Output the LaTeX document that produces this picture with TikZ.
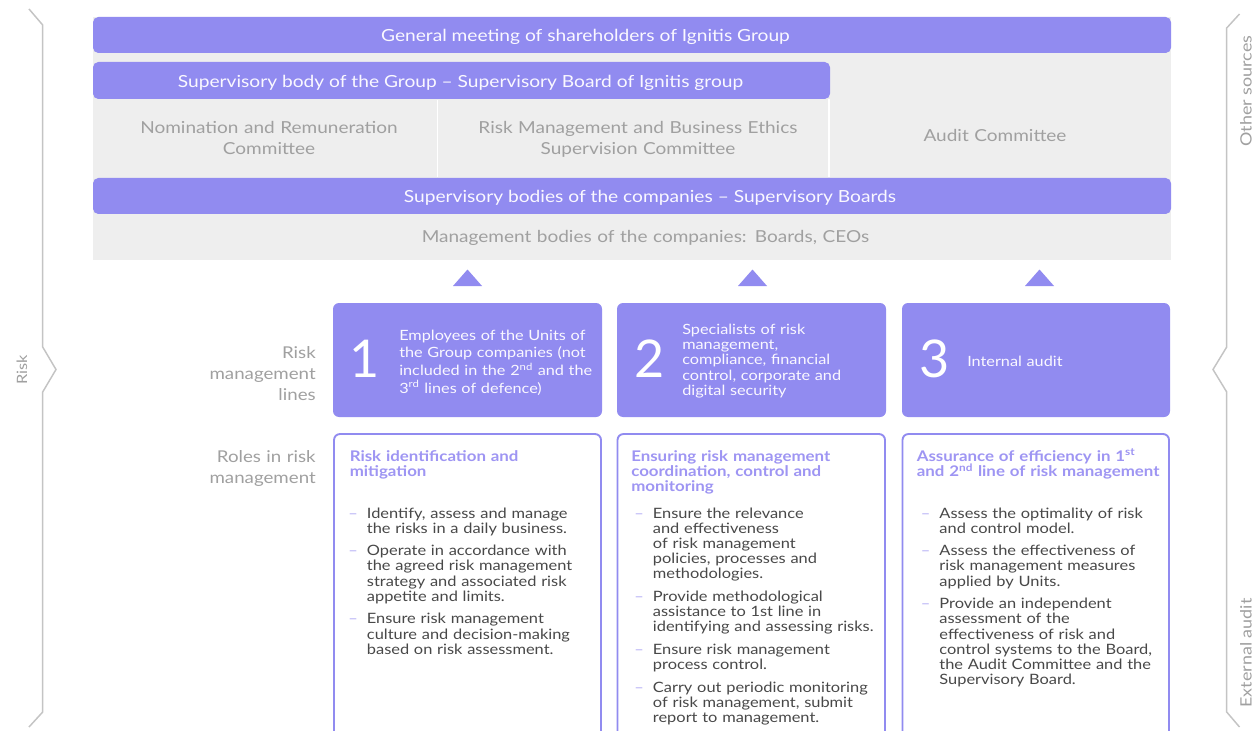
\documentclass[tikz,border=0pt]{standalone}
\usepackage{fontspec}
\setmainfont{Lato}[FakeStretch=1.15]
\newfontfamily\numfont{Lato}
\usetikzlibrary{fit}
\definecolor{pur}{RGB}{145,139,240}
\definecolor{purtxt}{RGB}{158,149,243}
\definecolor{purdash}{RGB}{180,174,246}
\definecolor{lgray}{RGB}{238,238,238}
\definecolor{gtxt}{RGB}{160,160,160}
\definecolor{btxt}{RGB}{72,72,72}
\definecolor{bracec}{RGB}{196,196,196}
\definecolor{wtxt}{RGB}{250,248,255}
\newcommand\nl{\newline}
\newcommand\bl[1]{\hangindent=14pt\hangafter=1\noindent\hbox to 14pt{\textcolor{purdash}{--}\hss}#1\par}
\newcommand\gap{\vspace{5.5pt}}
\begin{document}
\begin{tikzpicture}[x=0.75pt,y=-0.75pt,
  bar/.style={fill=pur, rounded corners=4pt, inner sep=0pt, draw=none},
  bartext/.style={text=wtxt, font=\fontsize{12.5}{15}\selectfont, inner sep=0pt, anchor=base},
  comtext/.style={text=gtxt, font=\fontsize{12.4}{15.75}\selectfont, align=center, inner sep=0pt, anchor=base, text width=260pt},
  lbox/.style={fill=pur, rounded corners=4.5pt, inner sep=0pt, draw=none},
  bignum/.style={text=white, font=\numfont\fontsize{39}{40}\selectfont, inner sep=0pt, anchor=base},
  ltext/.style={text=wtxt, inner sep=0pt, anchor=base west, align=left, text width=190pt},
  side/.style={text=gtxt, font=\fontsize{12.2}{15.75}\selectfont, inner sep=0pt, anchor=base east, align=right, text width=120pt},
  rbox/.style={draw=pur, line width=1.4pt, rounded corners=4.5pt},
  head/.style={text=purtxt, font=\fontsize{11}{11.6}\selectfont\bfseries, inner sep=0pt, anchor=base west, align=left, text width=200pt},
  body/.style={text=btxt, font=\fontsize{10.7}{11.4}\selectfont, inner sep=0pt, anchor=base west, align=left, text width=200pt},
  brc/.style={draw=bracec, line width=1.1pt},
  vlab/.style={text=gtxt, rotate=90, inner sep=0pt},
  tri/.style={fill=pur}
]
\useasboundingbox (0,0) rectangle (1260,731);
\fill[white] (0,0) rectangle (1260,731);

% braces
\draw[brc] (29,9) -- (42.7,25) -- (42.7,347) -- (56,369.5) -- (42.7,392) -- (42.7,712) -- (29,727);
\node[vlab, font=\fontsize{10.7}{12}\selectfont] (risk) at (22,370) {Risk};
\draw[brc] (1239.5,14) -- (1226.7,28) -- (1226.7,347) -- (1213,369.5) -- (1226.7,392) -- (1226.7,712) -- (1239.5,727);
\node[vlab, font=\fontsize{11.7}{13}\selectfont] (other) at (1246,91) {Other sources};
\node[vlab, font=\fontsize{11.7}{13}\selectfont] (ext) at (1246,653) {External audit};

% gray governance area
\node[fit={(93,17)(1171,260)}, inner sep=0pt, fill=lgray] (bg) {};
\node[bar, fit={(93,17)(1171,53)}] (gm) {};
\node[bartext] (gmt) at (585.5,42) {General meeting of shareholders of Ignitis Group};
\node[bar, fit={(93,62)(830,99)}] (sb) {};
\node[bartext] (sbt) at (460.5,88) {Supervisory body of the Group -- Supervisory Board of Ignitis group};
\draw[white, line width=1.3pt] (437.5,100) -- (437.5,177);
\draw[white, line width=1.3pt] (829,99) -- (829,177);
\node[comtext] (nrc) at (269,134) {Nomination and Remuneration\\Committee};
\node[comtext] (rmc) at (638,134) {Risk Management and Business Ethics\\Supervision Committee};
\node[comtext] (ac) at (995,142) {Audit Committee};
\node[bar, fit={(93,178)(1171,214)}] (cb) {};
\node[bartext] (cbt) at (650,203) {Supervisory bodies of the companies -- Supervisory Boards};
\node[comtext, text width=500pt] (mb) at (645.5,243) {Management bodies of the companies: Boards, CEOs};

% triangles
\fill[tri] (453,286) -- (467.5,269.5) -- (482,286) -- cycle;
\fill[tri] (738,286) -- (752.5,269.5) -- (767,286) -- cycle;
\fill[tri] (1025,286) -- (1039.5,269.5) -- (1054,286) -- cycle;

% side labels
\node[side] (rml) at (316,358) {Risk\\management\\lines};
\node[side] (rrm) at (316,462) {Roles in risk\\management};

% lines of defence boxes
\node[lbox, fit={(333,303)(602,417)}] (l1) {};
\node[lbox, fit={(617,303)(886,417)}] (l2) {};
\node[lbox, fit={(902,303)(1170,417)}] (l3) {};
\node[bignum] (n1) at (365,377) {1};
\node[bignum] (n2) at (650,377) {2};
\node[bignum] (n3) at (934.5,377) {3};
\node[ltext, font=\fontsize{10.6}{13.3}\selectfont] (t1) at (399,340) {Employees of the Units of\\the Group companies (not\\included in the 2\textsuperscript{nd} and the\\3\textsuperscript{rd} lines of defence)};
\node[ltext, font=\fontsize{10.6}{11.5}\selectfont] (t2) at (682,334) {Specialists of risk\\management,\\compliance, financial\\control, corporate and\\digital security};
\node[ltext, font=\fontsize{10.6}{12}\selectfont] (t3) at (967,366) {Internal audit};

% role boxes
\draw[rbox] (334,740) -- (334,434) -- (601,434) -- (601,740);
\draw[rbox] (617.5,740) -- (617.5,434) -- (885,434) -- (885,740);
\draw[rbox] (902.5,740) -- (902.5,434) -- (1169,434) -- (1169,740);

\node[head] (h1) at (349.5,461) {Risk identification and\\mitigation};
\node[head] (h2) at (631,461) {Ensuring risk management\\coordination, control and\\monitoring};
\node[head] (h3) at (916.5,461) {Assurance of efficiency in 1\textsuperscript{st}\\and 2\textsuperscript{nd} line of risk management};

\node[body] (b1) at (348,518) {%
\bl{Identify, assess and manage\nl the risks in a daily business.}\gap
\bl{Operate in accordance with\nl the agreed risk management\nl strategy and associated risk\nl appetite and limits.}\gap
\bl{Ensure risk management\nl culture and decision-making\nl based on risk assessment.}};

\node[body] (b2) at (634,518) {%
\bl{Ensure the relevance\nl and effectiveness\nl of risk management\nl policies, processes and\nl methodologies.}\gap
\bl{Provide methodological\nl assistance to 1st line in\nl identifying and assessing risks.}\gap
\bl{Ensure risk management\nl process control.}\gap
\bl{Carry out periodic monitoring\nl of risk management, submit\nl report to management.}};

\node[body] (b3) at (920.5,518) {%
\bl{Assess the optimality of risk\nl and control model.}\gap
\bl{Assess the effectiveness of\nl risk management measures\nl applied by Units.}\gap
\bl{Provide an independent\nl assessment of the\nl effectiveness of risk and\nl control systems to the Board,\nl the Audit Committee and the\nl Supervisory Board.}};
\end{tikzpicture}
\end{document}
